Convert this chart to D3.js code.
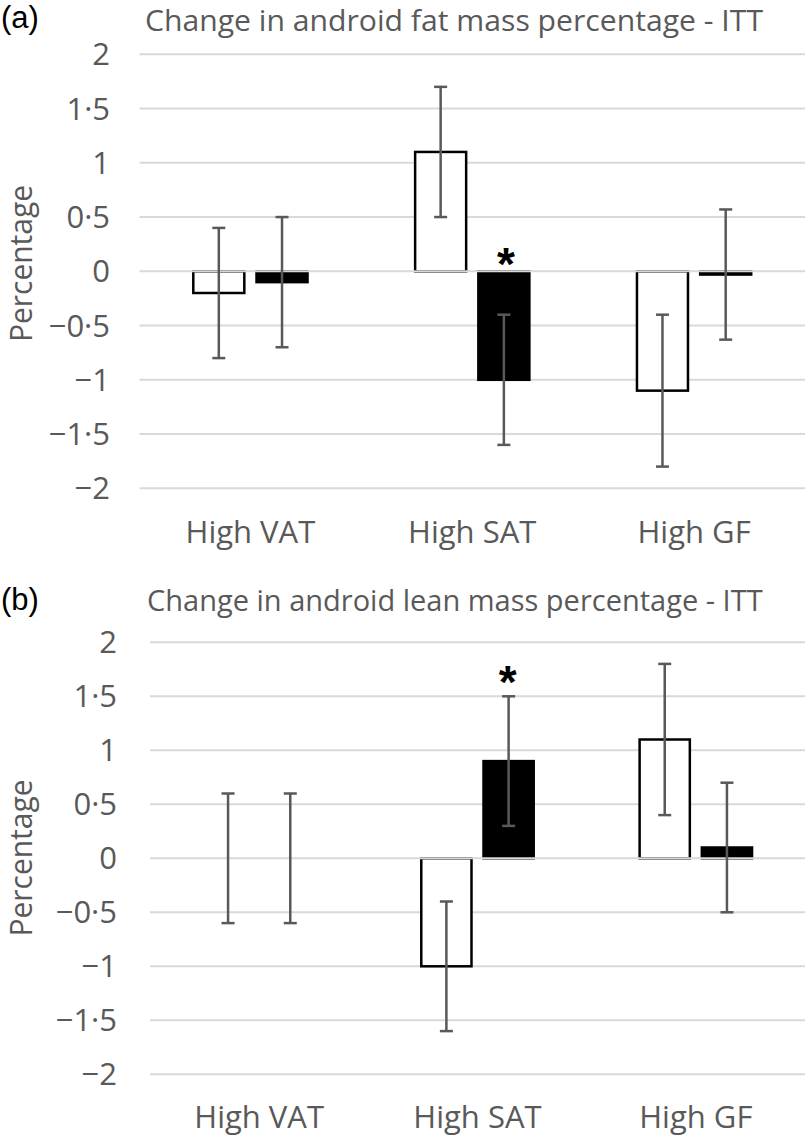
<!DOCTYPE html>
<html>
<head>
<meta charset="utf-8">
<script src="https://cdn.jsdelivr.net/npm/d3@7"></script>
<style>
  html, body { margin: 0; padding: 0; background: #fff; }
  svg { display: block; }
</style>
</head>
<body>
<svg id="chart" width="805" height="1136"></svg>
<script>
// ---------------- data ----------------
const categories = ["High VAT", "High SAT", "High GF"];
const seriesNames = ["Group 1", "Group 2"]; // white, black
const yTicks = [2, 1.5, 1, 0.5, 0, -0.5, -1, -1.5, -2];

// (a) Change in android fat mass percentage - ITT
const fatWhite = [-0.2, 1.1, -1.1];
const fatBlack = [-0.1, -1.0, -0.03];
const fatErrWhite = [0.6, 0.6, 0.7];
const fatErrBlack = [0.6, 0.6, 0.6];
const fatSigWhite = [false, false, false];
const fatSigBlack = [false, true, false];

// (b) Change in android lean mass percentage - ITT
const leanWhite = [0, -1.0, 1.1];
const leanBlack = [0, 0.9, 0.1];
const leanErrWhite = [0.6, 0.6, 0.7];
const leanErrBlack = [0.6, 0.6, 0.6];
const leanSigWhite = [false, false, false];
const leanSigBlack = [false, true, false];

const titles = ["Change in android fat mass percentage - ITT",
                "Change in android lean mass percentage - ITT"];
const panelLabels = ["(a)", "(b)"];
const yAxisTitle = "Percentage";

// ---------------- drawing ----------------
const svg = d3.select("#chart");
const FONT = "'Open Sans', 'Noto Sans', sans-serif";
const GREY = "#595959";

function fitText(sel, target) {
  sel.each(function () {
    const len = this.getComputedTextLength();
    if (target && Math.abs(len - target) > 1) {
      d3.select(this).attr("textLength", target).attr("lengthAdjust", "spacingAndGlyphs");
    }
  });
}
const fmt = v => (v < 0 ? "\u2212" : "") + String(Math.abs(v)).replace(".", "\u00B7");

function drawPanel(cfg) {
  const g = svg.append("g");
  const x = d3.scaleBand().domain(categories).range([cfg.x0, cfg.x1]).paddingInner(0).paddingOuter(0);
  const xs = d3.scaleBand().domain(seriesNames).range([0, x.bandwidth()])
    .paddingInner(0.193).paddingOuter(0.851);
  const y = d3.scaleLinear().domain([-2, 2]).range([cfg.yBot, cfg.yTop]);

  // gridlines
  g.append("g").selectAll("line").data(yTicks.filter(d => d !== 0)).join("line")
    .attr("x1", cfg.x0).attr("x2", cfg.x1)
    .attr("y1", d => y(d)).attr("y2", d => y(d))
    .attr("stroke", "#d9d9d9").attr("stroke-width", 2);

  // tick labels
  g.append("g").selectAll("text").data(yTicks).join("text")
    .attr("x", cfg.tickX).attr("y", d => y(d))
    .attr("dy", "0.36em")
    .attr("text-anchor", "end")
    .attr("font-family", FONT).attr("font-size", 31)
    .attr("fill", GREY)
    .text(fmt);

  // bars
  const rows = [];
  categories.forEach((c, i) => {
    rows.push({cat: c, s: seriesNames[0], v: cfg.white[i], e: cfg.errW[i], sig: cfg.sigW[i]});
    rows.push({cat: c, s: seriesNames[1], v: cfg.black[i], e: cfg.errB[i], sig: cfg.sigB[i]});
  });
  g.append("g").selectAll("rect").data(rows).join("rect")
    .attr("x", d => x(d.cat) + xs(d.s))
    .attr("width", xs.bandwidth())
    .attr("y", d => y(Math.max(0, d.v)))
    .attr("height", d => Math.abs(y(d.v) - y(0)))
    .attr("fill", d => d.s === seriesNames[0] ? "#fff" : "#000")
    .attr("stroke", d => d.v === 0 ? "none" : "#000")
    .attr("stroke-width", 2.5);

  // zero axis line on top
  g.append("line")
    .attr("x1", cfg.x0).attr("x2", cfg.x1)
    .attr("y1", y(0)).attr("y2", y(0))
    .attr("stroke", "#d9d9d9").attr("stroke-width", 2);

  // error bars
  const eb = g.append("g").attr("stroke", GREY).attr("stroke-width", 2.5);
  const cx = d => x(d.cat) + xs(d.s) + xs.bandwidth() / 2;
  eb.selectAll("line.v").data(rows).join("line").attr("class", "v")
    .attr("x1", cx).attr("x2", cx)
    .attr("y1", d => y(d.v + d.e)).attr("y2", d => y(d.v - d.e));
  eb.selectAll("line.t").data(rows).join("line").attr("class", "t")
    .attr("x1", d => cx(d) - 6.5).attr("x2", d => cx(d) + 6.5)
    .attr("y1", d => y(d.v + d.e)).attr("y2", d => y(d.v + d.e));
  eb.selectAll("line.b").data(rows).join("line").attr("class", "b")
    .attr("x1", d => cx(d) - 6.5).attr("x2", d => cx(d) + 6.5)
    .attr("y1", d => y(d.v - d.e)).attr("y2", d => y(d.v - d.e));

  // significance asterisks
  g.append("g").selectAll("text").data(rows.filter(d => d.sig)).join("text")
    .attr("x", d => cx(d) + cfg.starDx)
    .attr("y", cfg.starY)
    .attr("text-anchor", "middle")
    .attr("font-family", "'Liberation Sans', Arial, sans-serif")
    .attr("font-weight", "bold").attr("font-size", 46)
    .attr("fill", "#000")
    .text("*");

  // category labels
  g.append("g").selectAll("text").data(categories).join("text")
    .attr("x", d => x(d) + x.bandwidth() / 2)
    .attr("y", cfg.catY)
    .attr("text-anchor", "middle")
    .attr("font-family", FONT).attr("font-size", 31)
    .attr("fill", GREY)
    .text(d => d);

  // title
  g.append("text")
    .attr("x", cfg.titleX).attr("y", cfg.titleY)
    .attr("font-family", FONT).attr("font-size", 29)
    .attr("fill", GREY)
    .text(cfg.title)
    .call(fitText, cfg.titleW);

  // panel label
  g.append("text")
    .attr("x", 1).attr("y", cfg.labelY)
    .attr("font-family", "'Liberation Sans', Arial, sans-serif")
    .attr("font-size", 31).attr("fill", "#000")
    .text(cfg.label);

  // y axis title
  g.append("text")
    .attr("transform", `translate(32,${cfg.pctY}) rotate(-90)`)
    .attr("text-anchor", "middle")
    .attr("font-family", FONT).attr("font-size", 31)
    .attr("fill", GREY)
    .text(yAxisTitle)
    .call(fitText, 157);
}

drawPanel({
  label: panelLabels[0], title: titles[0],
  white: fatWhite, black: fatBlack, errW: fatErrWhite, errB: fatErrBlack,
  sigW: fatSigWhite, sigB: fatSigBlack,
  x0: 139.5, x1: 805, yTop: 54.3, yBot: 488.3,
  tickX: 110, titleX: 145, titleY: 31, labelY: 28, titleW: 618, catY: 543, pctY: 263.5,
  starY: 280, starDx: 2
});
drawPanel({
  label: panelLabels[1], title: titles[1],
  white: leanWhite, black: leanBlack, errW: leanErrWhite, errB: leanErrBlack,
  sigW: leanSigWhite, sigB: leanSigBlack,
  x0: 150, x1: 805, yTop: 642.3, yBot: 1074.3,
  tickX: 117, titleX: 147, titleY: 611, labelY: 610, titleW: 615, catY: 1128, pctY: 858,
  starY: 698, starDx: -1
});
</script>
</body>
</html>
